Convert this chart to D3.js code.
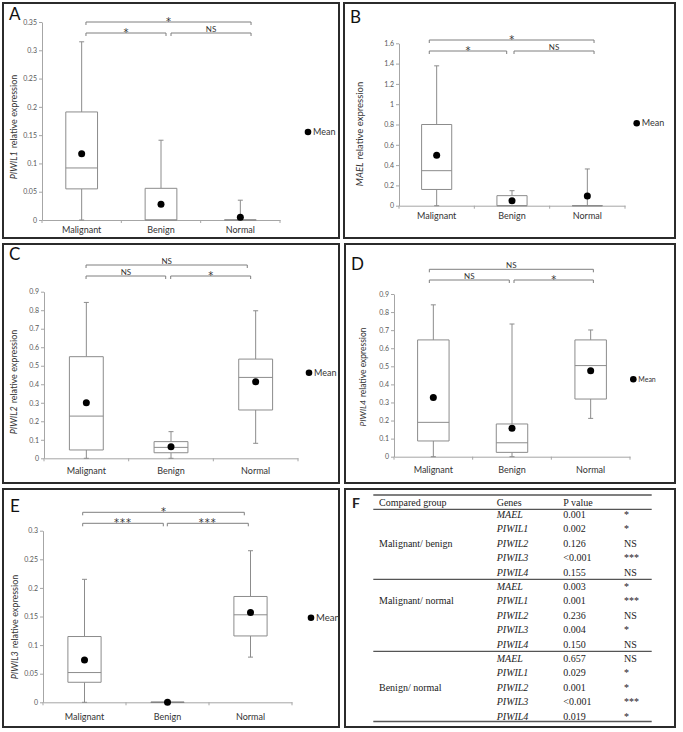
<!DOCTYPE html>
<html><head><meta charset="utf-8">
<script src="https://cdn.jsdelivr.net/npm/d3@7"></script>
<style>body{margin:0;background:#fff;} svg{display:block;}</style>
</head><body>
<svg id="c" width="683" height="732"></svg>
<script>
const categories = ["Malignant", "Benign", "Normal"];
// per category: [min, q1, median, q3, max, mean]
const piwil1Stats = [[0, 0.055, 0.092, 0.191, 0.315, 0.117], [0, 0, 0, 0.056, 0.141, 0.028], [0, 0, 0, 0, 0.035, 0.005]];
const maelStats   = [[0, 0.16, 0.345, 0.80, 1.378, 0.497], [0, 0, 0, 0.099, 0.148, 0.05], [0, 0, 0, 0, 0.362, 0.096]];
const piwil2Stats = [[0, 0.045, 0.228, 0.549, 0.842, 0.30], [0, 0.030, 0.059, 0.09, 0.144, 0.062], [0.081, 0.261, 0.437, 0.536, 0.797, 0.414]];
const piwil4Stats = [[0, 0.087, 0.19, 0.646, 0.84, 0.327], [0, 0.024, 0.077, 0.181, 0.734, 0.157], [0.212, 0.319, 0.504, 0.646, 0.701, 0.476]];
const piwil3Stats = [[0, 0.035, 0.052, 0.115, 0.215, 0.074], [0, 0, 0, 0, 0, 0], [0.079, 0.116, 0.153, 0.185, 0.265, 0.157]];

const piwil1Ticks = [0, 0.05, 0.1, 0.15, 0.2, 0.25, 0.3, 0.35];
const maelTicks   = [0, 0.2, 0.4, 0.6, 0.8, 1, 1.2, 1.4, 1.6];
const piwil2Ticks = [0, 0.1, 0.2, 0.3, 0.4, 0.5, 0.6, 0.7, 0.8, 0.9];
const piwil4Ticks = [0, 0.1, 0.2, 0.3, 0.4, 0.5, 0.6, 0.7, 0.8, 0.9];
const piwil3Ticks = [0, 0.05, 0.1, 0.15, 0.2, 0.25, 0.3];

// significance: [Malignant vs Normal, Malignant vs Benign, Benign vs Normal]
const piwil1Sig = ["*", "*", "NS"];
const maelSig   = ["*", "*", "NS"];
const piwil2Sig = ["NS", "NS", "*"];
const piwil4Sig = ["NS", "NS", "*"];
const piwil3Sig = ["*", "***", "***"];

// Table F
const tableHeaders = ["Compared group", "Genes", "P value"];
const comparedGroups = ["Malignant/ benign", "Malignant/ normal", "Benign/ normal"];
const groupLabelRow = [2, 1, 2];
const tableGenes = ["MAEL", "PIWIL1", "PIWIL2", "PIWIL3", "PIWIL4"];
const pValues = [["0.001", "0.002", "0.126", "<0.001", "0.155"],
                 ["0.003", "0.001", "0.236", "0.004", "0.150"],
                 ["0.657", "0.029", "0.001", "<0.001", "0.019"]];
const pSignif = [["*", "*", "NS", "***", "NS"],
                 ["*", "***", "NS", "*", "NS"],
                 ["NS", "*", "*", "***", "*"]];

const svg = d3.select("#c");
svg.append("rect").attr("width", 683).attr("height", 732).attr("fill", "#fff");
const SANS = "Lato, 'Open Sans', sans-serif";
const fmt = v => String(+v.toFixed(2));
const GREY = "#8c8c8c";

const panels = [
  {letter: "A", gene: "PIWIL1", stats: piwil1Stats, ticks: piwil1Ticks, sig: piwil1Sig, ymax: 0.35,
   frame: [3, 3, 339, 238], letterPos: [9, 20], x: [42, 280], y: [220, 22], yLabel: [14, 127], yLabelFs: 9,
   catDy: 13, legend: [308, 132], legendFs: 9,
   br: {top: 22, low: 33, t: [4.3, 10.7], l: [4.3, 5], r: [10, 10.7]}},
  {letter: "B", gene: "MAEL", stats: maelStats, ticks: maelTicks, sig: maelSig, ymax: 1.6,
   frame: [344, 3, 675, 238], letterPos: [350, 23], x: [399, 625], y: [205.7, 43.3], yLabel: [360, 134], yLabelFs: 9.5,
   catDy: 13.3, legend: [636.7, 123.3], legendFs: 9,
   br: {top: 40, low: 51, t: [-7.4, 6.7], l: [-7.4, -5.3], r: [2, 6.7]}},
  {letter: "C", gene: "PIWIL2", stats: piwil2Stats, ticks: piwil2Ticks, sig: piwil2Sig, ymax: 0.9,
   frame: [3, 244, 339, 483], letterPos: [9, 260], x: [44, 298], y: [458.3, 291.7], yLabel: [14, 382], yLabelFs: 9,
   catDy: 16, legend: [309, 372.7], legendFs: 9,
   br: {top: 265, low: 276, t: [-0.3, -8.4], l: [-0.3, -5.3], r: [-0.3, -5]}},
  {letter: "D", gene: "PIWIL4", stats: piwil4Stats, ticks: piwil4Ticks, sig: piwil4Sig, ymax: 0.9,
   frame: [345, 244, 675, 483], letterPos: [351, 270], x: [394, 630], y: [456.7, 294], yLabel: [363, 377], yLabelFs: 8.5,
   catDy: 16, legend: [633.3, 379.3], legendFs: 7,
   br: {top: 269.3, low: 280, t: [-4, 2.7], l: [-4, -2.7], r: [2, 2.7]}},
  {letter: "E", gene: "PIWIL3", stats: piwil3Stats, ticks: piwil3Ticks, sig: piwil3Sig, ymax: 0.3,
   frame: [3, 489, 339, 727], letterPos: [10, 512], x: [43, 292], y: [702.3, 530.7], yLabel: [15, 627], yLabelFs: 9,
   catDy: 18, legend: [311, 617.7], legendFs: 9.5,
   br: {top: 512.3, low: 523.3, t: [-1.8, -6.2], l: [-1.8, -4.2], r: [-0.2, -2.2]}}
];

function frame(f) {
  svg.append("rect").attr("x", f[0]).attr("y", f[1]).attr("width", f[2] - f[0]).attr("height", f[3] - f[1])
    .attr("fill", "none").attr("stroke", "#2b2b2b").attr("stroke-width", 2);
}

function drawPanel(p) {
  frame(p.frame);
  const g = svg.append("g");
  g.append("text").attr("x", p.letterPos[0]).attr("y", p.letterPos[1]).text(p.letter)
    .attr("font-family", SANS).attr("font-size", 17).attr("fill", "#111");
  const x = d3.scaleBand().domain(categories).range(p.x);
  const bw = x.bandwidth();
  const cx = c => x(c) + bw / 2;
  const y = d3.scaleLinear().domain([0, p.ymax]).range(p.y);

  // y axis
  const ya = g.append("g").attr("transform", `translate(${p.x[0]},0)`)
    .call(d3.axisLeft(y).tickValues(p.ticks).tickFormat(fmt).tickSize(3).tickSizeOuter(0).tickPadding(2));
  ya.select(".domain").attr("stroke", "#a6a6a6");
  ya.selectAll(".tick line").attr("stroke", "#a6a6a6");
  ya.selectAll("text").attr("font-family", SANS).attr("font-size", 7).attr("fill", "#595959");

  // x axis
  const xa = g.append("g").attr("transform", `translate(0,${y(0)})`)
    .call(d3.axisBottom(x).tickSize(0).tickSizeOuter(0).tickFormat(""));
  xa.select(".domain").attr("stroke", "#a6a6a6");
  const edges = categories.map(c => x(c)).concat([x.range()[1]]);
  g.selectAll(".xtick").data(edges).join("line")
    .attr("x1", d => d).attr("x2", d => d).attr("y1", y(0)).attr("y2", y(0) + 3)
    .attr("stroke", "#a6a6a6");
  g.selectAll(".cat").data(categories).join("text")
    .attr("x", cx).attr("y", y(0) + p.catDy).attr("text-anchor", "middle")
    .attr("font-family", SANS).attr("font-size", 9).attr("fill", "#333").text(d => d);

  // y label
  const yl = g.append("text").attr("transform", `translate(${p.yLabel[0]},${p.yLabel[1]}) rotate(-90)`)
    .attr("text-anchor", "middle").attr("dy", "0.35em")
    .attr("font-family", SANS).attr("font-size", p.yLabelFs).attr("fill", "#333");
  yl.append("tspan").attr("font-style", "italic").text(p.gene);
  yl.append("tspan").attr("dx", 3).text("relative expression");

  // boxes
  const bx = bw * 0.4, cap = 2.5;
  categories.forEach((c, i) => {
    const [mn, q1, md, q3, mx, mean] = p.stats[i];
    const xc = cx(c);
    const line = (x1, y1, x2, y2) => g.append("line").attr("x1", x1).attr("y1", y1).attr("x2", x2).attr("y2", y2)
      .attr("stroke", GREY).attr("stroke-width", 1);
    if (q1 > mn) { line(xc, y(mn), xc, y(q1)); line(xc - cap, y(mn), xc + cap, y(mn)); }
    if (mx > q3) { line(xc, y(q3), xc, y(mx)); line(xc - cap, y(mx), xc + cap, y(mx)); }
    const flat = mx === mn;
    g.append("path")
      .attr("d", `M${xc - bx / 2},${y(q3)}H${xc + bx / 2}V${y(q1)}H${xc - bx / 2}Z`)
      .attr("fill", q3 > q1 ? "#fff" : "none").attr("stroke", flat ? "#555" : GREY).attr("stroke-width", 1);
    line(xc - bx / 2, y(md), xc + bx / 2, y(md));
    g.append("circle").attr("cx", xc).attr("cy", y(mean)).attr("r", 3.5).attr("fill", "#000");
  });

  // legend
  g.append("circle").attr("cx", p.legend[0]).attr("cy", p.legend[1]).attr("r", 3.3).attr("fill", "#000");
  g.append("text").attr("x", p.legend[0] + 5).attr("y", p.legend[1]).attr("dy", "0.35em")
    .attr("font-family", SANS).attr("font-size", p.legendFs).attr("fill", "#333").text("Mean");

  // significance brackets
  const c0 = cx(categories[0]), c1 = cx(categories[1]), c2 = cx(categories[2]);
  const brs = [
    {a: c0 + p.br.t[0], b: c2 + p.br.t[1], yy: p.br.top, lab: p.sig[0]},
    {a: c0 + p.br.l[0], b: c1 + p.br.l[1], yy: p.br.low, lab: p.sig[1]},
    {a: c1 + p.br.r[0], b: c2 + p.br.r[1], yy: p.br.low, lab: p.sig[2]}
  ];
  brs.forEach(d => {
    g.append("path").attr("d", `M${d.a},${d.yy + 3}V${d.yy}H${d.b}V${d.yy + 3}`)
      .attr("fill", "none").attr("stroke", "#7f7f7f").attr("stroke-width", 1);
    const isNS = d.lab === "NS";
    g.append("text").attr("x", (d.a + d.b) / 2).attr("y", isNS ? d.yy - 1.5 : d.yy + 2.5)
      .attr("text-anchor", "middle").attr("font-family", isNS ? SANS : "'DejaVu Sans', sans-serif")
      .attr("font-size", isNS ? 8 : 10).attr("letter-spacing", d.lab === "***" ? 1 : 0)
      .attr("fill", "#333").text(d.lab);
  });
}

panels.forEach(drawPanel);

// Panel F: table
frame([345, 489, 675, 727]);
const SERIF = "'Liberation Serif', 'Times New Roman', serif";
svg.append("text").attr("x", 352).attr("y", 508).attr("font-family", SANS).attr("font-size", 14)
  .attr("font-weight", "bold").attr("fill", "#222").text("F");
const rowY = d3.scaleLinear().domain([0, 14]).range([514.5, 716.1]);
const colX = [379, 496.7, 563.3, 624];
const tx0 = 373.3, tx1 = 651.7;
const hline = (yy, w) => svg.append("line").attr("x1", tx0).attr("x2", tx1).attr("y1", yy).attr("y2", yy)
  .attr("stroke", "#555").attr("stroke-width", w);
hline(rowY(-1.35), 1.6);
hline(rowY(-0.36), 1.2);
hline((rowY(4) + rowY(5)) / 2, 1.2);
hline((rowY(9) + rowY(10)) / 2, 1.2);
hline(rowY(14.38), 1.6);
tableHeaders.forEach((h, i) => {
  svg.append("text").attr("x", colX[i]).attr("y", rowY(-0.83)).attr("dy", "0.35em")
    .attr("font-family", SERIF).attr("font-size", 10).attr("fill", "#222").text(h);
});
comparedGroups.forEach((grp, gi) => {
  svg.append("text").attr("x", colX[0]).attr("y", rowY(gi * 5 + groupLabelRow[gi])).attr("dy", "0.35em")
    .attr("font-family", SERIF).attr("font-size", 10).attr("fill", "#222").text(grp);
  tableGenes.forEach((gene, ri) => {
    const yy = rowY(gi * 5 + ri);
    svg.append("text").attr("x", colX[1]).attr("y", yy).attr("dy", "0.35em").attr("font-style", "italic")
      .attr("font-family", SERIF).attr("font-size", 10).attr("fill", "#222").text(gene);
    svg.append("text").attr("x", colX[2]).attr("y", yy).attr("dy", "0.35em")
      .attr("font-family", SERIF).attr("font-size", 10).attr("fill", "#222").text(pValues[gi][ri]);
    svg.append("text").attr("x", colX[3]).attr("y", yy).attr("dy", "0.35em")
      .attr("font-family", SERIF).attr("font-size", 10).attr("fill", "#222").text(pSignif[gi][ri]);
  });
});
</script>
</body></html>
